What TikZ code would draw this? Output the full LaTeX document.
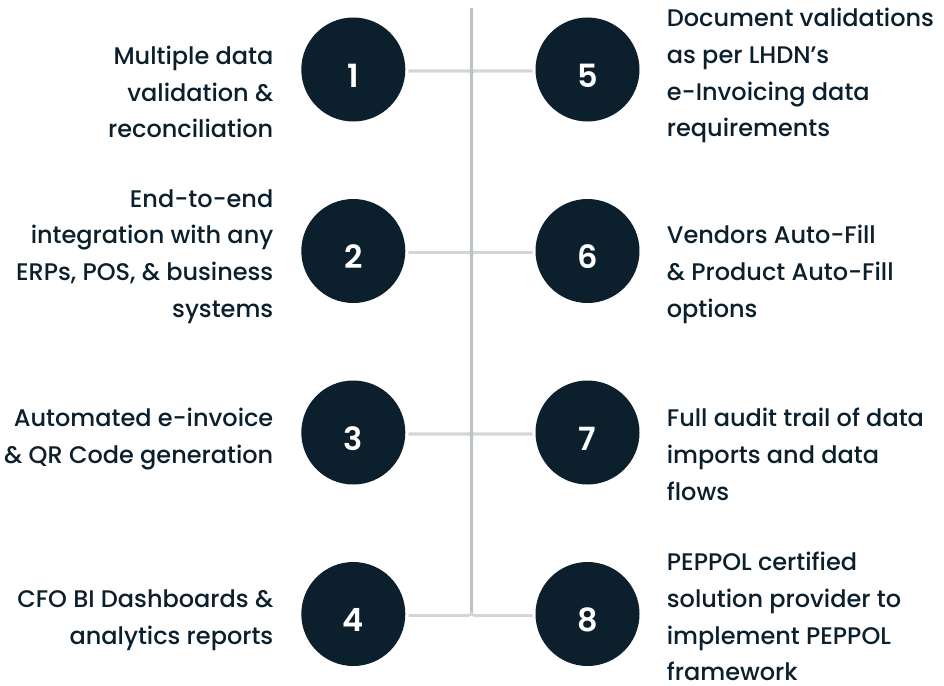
\documentclass[tikz,border=0pt]{standalone}
\usepackage{fontspec}
\usetikzlibrary{calc}
\newfontfamily\txtfont{Poppins Medium}
\newfontfamily\numfont{Poppins SemiBold}
\definecolor{navy}{HTML}{0B1F2D}
\definecolor{vlinec}{HTML}{BDC2C7}
\definecolor{hlinec}{HTML}{D3D6D9}
\begin{document}
\begin{tikzpicture}[x=1pt,y=-1pt,
  dot/.style={circle,fill=navy,minimum size=104pt,inner sep=0pt},
  num/.style={text=white,font=\numfont\fontsize{32}{32}\selectfont,anchor=base,inner sep=0pt,yshift=-17.5pt},
  lt/.style={text=navy,font=\txtfont\fontsize{24}{30}\selectfont,anchor=base east,inner sep=0pt},
  rt/.style={text=navy,font=\txtfont\fontsize{24}{30}\selectfont,anchor=base west,inner sep=0pt},
  vl/.style={draw=vlinec,line width=2.7pt},
  hl/.style={draw=hlinec,line width=2.7pt,rounded corners=3pt}]
\useasboundingbox[fill=white] (0,0) rectangle (944,685);
% junctions
\coordinate (vtop) at (471.5,8);
\coordinate (j1) at (471.5,71);
\coordinate (j2) at (471.5,252.5);
\coordinate (j3) at (471.5,434);
\coordinate (j4) at (471.5,615.5);
% circles
\node[dot] (c1) at (353.3,69.5) {};
\node[dot] (c2) at (353.3,251) {};
\node[dot] (c3) at (353.3,432.5) {};
\node[dot] (c4) at (353.3,614) {};
\node[dot] (c5) at (587.5,69.5) {};
\node[dot] (c6) at (587.5,251) {};
\node[dot] (c7) at (587.5,432.5) {};
\node[dot] (c8) at (587.5,614) {};
% horizontal connectors
\foreach \i in {1,2,3} {
  \draw[hl] ($(c\i.east|-j\i)+(3,0)$) -- (j\i) -- ++(0,-7);
  \draw[hl] ($(c\i.east|-j\i)+(3,0)$) -- (j\i) -- ++(0,7);
}
\foreach \i/\k in {5/1,6/2,7/3} {
  \draw[hl] ($(c\i.west|-j\k)+(-3,0)$) -- (j\k) -- ++(0,-7);
  \draw[hl] ($(c\i.west|-j\k)+(-3,0)$) -- (j\k) -- ++(0,7);
}
\draw[hl] ($(c4.east|-j4)+(3,0)$) -- (j4) -- ++(0,-7);
\draw[hl] ($(c8.west|-j4)+(-3,0)$) -- (j4) -- ++(0,-7);
% vertical line
\draw[vl] (vtop) -- ($(j4)+(0,-4)$);
% digits
\node[num] (n1) at (c1) {1};
\node[num] (n2) at (c2) {2};
\node[num] (n3) at (c3) {3};
\node[num] (n4) at (c4) {4};
\node[num] (n5) at (c5) {5};
\node[num] (n6) at (c6) {6};
\node[num] (n7) at (c7) {7};
\node[num] (n8) at (c8) {8};
% left texts
\node[lt] (t1a) at (273.5,64.5) {Multiple data};
\node[lt] (t1b) at (273.5,101.2) {validation \&};
\node[lt] (t1c) at (273.5,137.9) {reconciliation};
\node[lt] (t2a) at (273.5,207) {End-to-end};
\node[lt] (t2b) at (273.5,243.7) {integration with any};
\node[lt] (t2c) at (273.5,280.4) {ERPs, POS, \& business};
\node[lt] (t2d) at (273.5,317.1) {systems};
\node[lt] (t3a) at (273.5,426.7) {Automated e-invoice};
\node[lt] (t3b) at (273.5,463.4) {\& QR Code generation};
\node[lt] (t4a) at (273.5,607.5) {CFO BI Dashboards \&};
\node[lt] (t4b) at (273.5,644.2) {analytics reports};
% right texts
\node[rt] (t5a) at (666.7,26.7) {Document validations};
\node[rt] (t5b) at (666.7,63.4) {as per LHDN’s};
\node[rt] (t5c) at (666.7,100.1) {e-Invoicing data};
\node[rt] (t5d) at (666.7,136.8) {requirements};
\node[rt] (t6a) at (666.7,243.7) {Vendors Auto-Fill};
\node[rt] (t6b) at (666.7,280.4) {\& Product Auto-Fill};
\node[rt] (t6c) at (666.7,317.1) {options};
\node[rt] (t7a) at (666.7,426.7) {Full audit trail of data};
\node[rt] (t7b) at (666.7,463.4) {imports and data};
\node[rt] (t7c) at (666.7,500.1) {flows};
\node[rt] (t8a) at (666.7,570.7) {PEPPOL certified};
\node[rt] (t8b) at (666.7,607.4) {solution provider to};
\node[rt] (t8c) at (666.7,644.1) {implement PEPPOL};
\node[rt] (t8d) at (666.7,680.8) {framework};
\end{tikzpicture}
\end{document}
